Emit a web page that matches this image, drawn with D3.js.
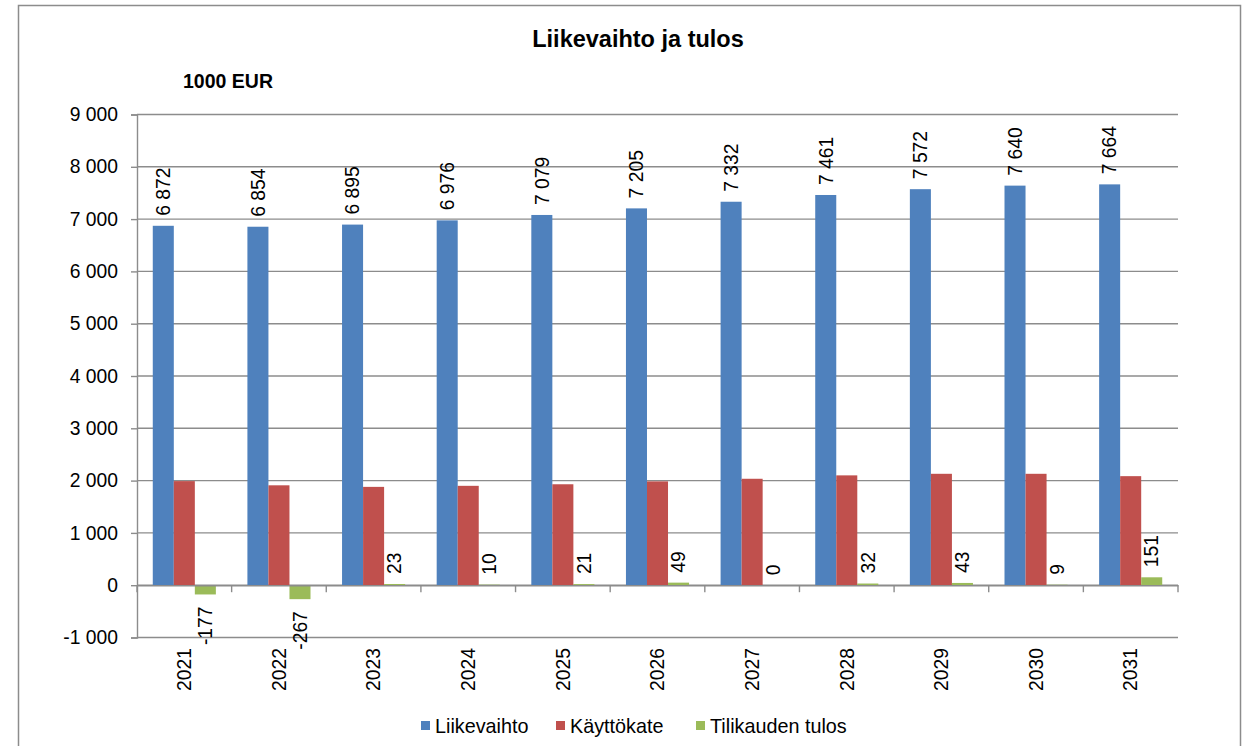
<!DOCTYPE html>
<html>
<head>
<meta charset="utf-8">
<script src="https://cdn.jsdelivr.net/npm/d3@7"></script>
<style>
  html, body { margin: 0; padding: 0; background: #fff; }
  svg { display: block; font-family: "Liberation Sans", Arial, sans-serif; }
</style>
</head>
<body>
<svg id="chart" width="1248" height="746"></svg>
<script>
// Years on the category axis
const years = ["2021", "2022", "2023", "2024", "2025", "2026", "2027", "2028", "2029", "2030", "2031"];
// Series values, 1000 EUR
const liikevaihto = [6872, 6854, 6895, 6976, 7079, 7205, 7332, 7461, 7572, 7640, 7664];
const kayttokate = [1990, 1910, 1880, 1900, 1930, 1985, 2035, 2100, 2130, 2130, 2085];
const tilikaudenTulos = [-177, -267, 23, 10, 21, 49, 0, 32, 43, 9, 151];
// Series names and value-axis ticks
const seriesNames = ["Liikevaihto", "Käyttökate", "Tilikauden tulos"];
const yTicks = [-1000, 0, 1000, 2000, 3000, 4000, 5000, 6000, 7000, 8000, 9000];

const colors = ["#4F81BD", "#C0504D", "#9BBB59"];
const series = [liikevaihto, kayttokate, tilikaudenTulos];
const labelled = [true, false, true];

const svg = d3.select("#chart");
const plot = { left: 137, right: 1178, top: 114.5, bottom: 637.5 };
// Space as thousands separator, plain hyphen for negatives
const fmt = v => d3.format(",")(v).replace(/,/g, " ").replace(/\u2212/g, "-");
const fs = 19.3;

// Outer chart frame
svg.append("rect")
  .attr("x", 18.5).attr("y", 5.5).attr("width", 1222).attr("height", 760)
  .attr("fill", "none").attr("stroke", "#8c8c8c").attr("stroke-width", 1.5);

const x = d3.scaleBand().domain(years).range([plot.left, plot.right]).paddingInner(0).paddingOuter(0);
const y = d3.scaleLinear().domain([-1000, 9000]).range([plot.bottom, plot.top]);

// Bar slots: 3 bars + gap of 150% bar width per category
const barW = x.bandwidth() / 4.5;
const xs = d3.scaleBand().domain(d3.range(3)).range([barW * 0.75, barW * 3.75]).padding(0);

// Horizontal gridlines
svg.append("g")
  .selectAll("line").data(yTicks).join("line")
  .attr("x1", plot.left).attr("x2", plot.right)
  .attr("y1", d => y(d)).attr("y2", d => y(d))
  .attr("stroke", "#8c8c8c").attr("stroke-width", 1.4);

// Value axis
const yAxis = svg.append("g")
  .attr("transform", `translate(${plot.left},0)`)
  .call(d3.axisLeft(y).tickValues(yTicks).tickSize(6).tickPadding(13).tickFormat(fmt));
yAxis.select(".domain").attr("stroke", "#8c8c8c").attr("stroke-width", 1.4);
yAxis.selectAll(".tick line").attr("stroke", "#8c8c8c").attr("stroke-width", 1.4);
yAxis.selectAll(".tick text").attr("font-size", fs).attr("fill", "#000")
  .attr("font-family", "Liberation Sans, Arial, sans-serif");

// Bars
series.forEach((vals, si) => {
  svg.append("g").selectAll("rect").data(vals).join("rect")
    .attr("x", (d, i) => x(years[i]) + xs(si))
    .attr("width", xs.bandwidth())
    .attr("y", d => y(Math.max(0, d)))
    .attr("height", d => Math.abs(y(d) - y(0)))
    .attr("fill", colors[si]);
});

// Category axis on the zero line
const xAxis = svg.append("g")
  .attr("transform", `translate(0,${y(0)})`)
  .call(d3.axisBottom(x).tickSize(0).tickFormat(""));
xAxis.select(".domain").attr("stroke", "#8c8c8c").attr("stroke-width", 1.4);
svg.append("g").selectAll("line").data(d3.range(years.length + 1)).join("line")
  .attr("x1", i => plot.left + i * x.bandwidth()).attr("x2", i => plot.left + i * x.bandwidth())
  .attr("y1", y(0)).attr("y2", y(0) + 7)
  .attr("stroke", "#8c8c8c").attr("stroke-width", 1.4);

// Year labels, rotated
svg.append("g").selectAll("text").data(years).join("text")
  .attr("transform", d => `translate(${x(d) + x.bandwidth() / 2},648) rotate(-90)`)
  .attr("text-anchor", "end").attr("dy", "0.35em")
  .attr("font-size", fs).attr("fill", "#000")
  .text(d => d);

// Data labels, rotated
series.forEach((vals, si) => {
  if (!labelled[si]) return;
  svg.append("g").selectAll("text").data(vals).join("text")
    .attr("transform", (d, i) => {
      const cx = x(years[i]) + xs(si) + xs.bandwidth() / 2;
      const cy = d < 0 ? y(d) + 12 : y(d) - 10;
      return `translate(${cx},${cy}) rotate(-90)`;
    })
    .attr("text-anchor", d => d < 0 ? "end" : "start")
    .attr("dy", "0.35em")
    .attr("font-size", fs).attr("fill", "#000")
    .text(d => fmt(d));
});

// Title and unit
svg.append("text").attr("x", 638).attr("y", 47).attr("text-anchor", "middle")
  .attr("font-size", 23.5).attr("font-weight", "bold").attr("fill", "#000")
  .text("Liikevaihto ja tulos");
svg.append("text").attr("x", 183).attr("y", 87.5)
  .attr("font-size", 19.5).attr("font-weight", "bold").attr("fill", "#000")
  .text("1000 EUR");

// Legend
const legendX = [421, 556, 696];
const lg = svg.append("g").selectAll("g").data(seriesNames).join("g")
  .attr("transform", (d, i) => `translate(${legendX[i]},0)`);
lg.append("rect").attr("x", 0).attr("y", 721).attr("width", 9).attr("height", 9)
  .attr("fill", (d, i) => colors[i]);
lg.append("text").attr("x", 14).attr("y", 733)
  .attr("font-size", 19.8).attr("fill", "#000")
  .text(d => d);
</script>
</body>
</html>
